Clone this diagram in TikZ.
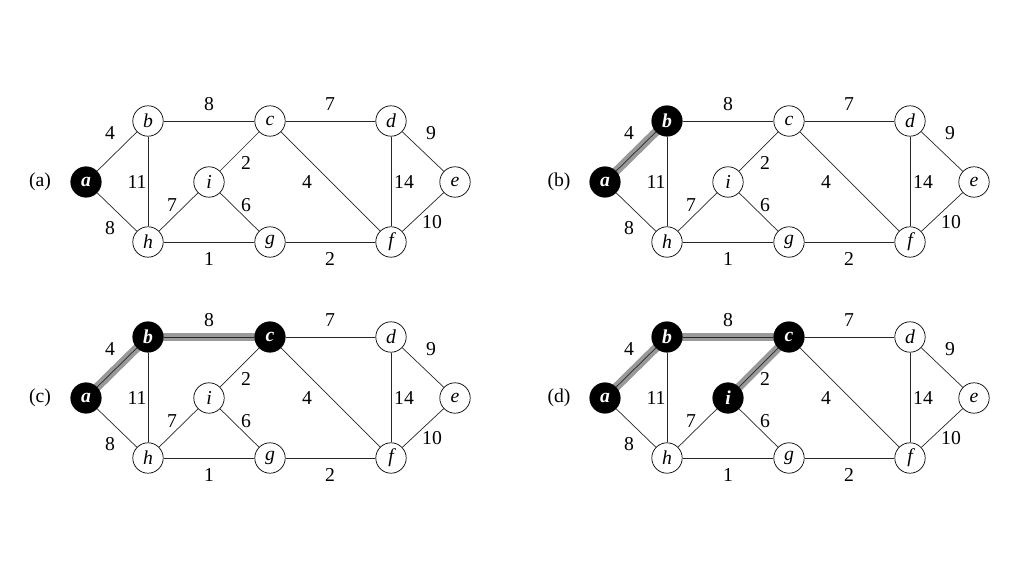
\documentclass[tikz,border=0pt]{standalone}
\usepackage{fontspec}
\setmainfont{Liberation Serif}
\pgfdeclarelayer{hl}
\pgfdeclarelayer{edges}
\pgfsetlayers{hl,edges,main}
\tikzset{
  vtx/.style={circle, draw=black, line width=0.5pt, fill=white, minimum size=0.76cm, inner sep=0pt,
    font=\fontsize{14}{16}\selectfont\itshape},
  blk/.style={fill=black, text=white, font=\fontsize{14}{16}\selectfont\bfseries\itshape},
  na/.style={}, nb/.style={}, nc/.style={}, nd/.style={}, ne/.style={},
  nf/.style={}, ng/.style={}, nh/.style={}, ni/.style={},
  edge/.style={draw=black!85, line width=0.5pt},
  hledge/.style={draw=black!40, line width=6pt},
  wlab/.style={font=\fontsize{14}{16}\selectfont, inner sep=1pt},
  plab/.style={font=\fontsize{14}{16}\selectfont, inner sep=1pt},
}
\newcommand\graphpanel[4]{%
  \begin{scope}[shift={(#2,#3)}]
    \node[plab] (#1lab) at (40,182) {#4};
    \foreach \n/\x/\y in {a/86/182, b/148/121, c/270/121, d/391/121, e/455/182,
                          f/391/242, g/270/242, h/148/242, i/209/182}
      \node[vtx, n\n] (#1\n) at (\x,\y) {\n};
    \begin{pgfonlayer}{edges}
      \foreach \u/\v in {a/b, a/h, b/c, b/h, c/d, c/i, c/f, d/e, d/f, e/f, f/g, g/h, g/i, h/i}
        \draw[edge] (#1\u) -- (#1\v);
    \end{pgfonlayer}
    \foreach \t/\x/\y [count=\k] in {4/110/133, 8/209/104, 7/330/104, 9/431/133, 11/137/182,
        2/246/163, 4/307/182, 14/404/182, 7/172/205, 6/246/205, 10/432/222,
        8/110/228, 1/209/259, 2/330/259}
      \node[wlab] (#1w\k) at (\x,\y) {\t};
  \end{scope}%
}
\begin{document}
\begin{tikzpicture}[x=0.025cm, y=-0.025cm]
  \useasboundingbox (0,0) rectangle (1024,576);
  % (a)
  \begin{scope}[na/.style=blk]
    \graphpanel{p}{0}{0}{(a)}
  \end{scope}
  % (b)
  \begin{scope}[na/.style=blk, nb/.style=blk]
    \graphpanel{q}{519}{0}{(b)}
  \end{scope}
  \begin{pgfonlayer}{hl}
    \draw[hledge] (qa.center) -- (qb.center);
  \end{pgfonlayer}
  % (c)
  \begin{scope}[na/.style=blk, nb/.style=blk, nc/.style=blk]
    \graphpanel{r}{0}{216}{(c)}
  \end{scope}
  \begin{pgfonlayer}{hl}
    \draw[hledge] (ra.center) -- (rb.center);
    \draw[hledge] (rb.center) -- (rc.center);
  \end{pgfonlayer}
  % (d)
  \begin{scope}[na/.style=blk, nb/.style=blk, nc/.style=blk, ni/.style=blk]
    \graphpanel{s}{519}{216}{(d)}
  \end{scope}
  \begin{pgfonlayer}{hl}
    \draw[hledge] (sa.center) -- (sb.center);
    \draw[hledge] (sb.center) -- (sc.center);
    \draw[hledge] (sc.center) -- (si.center);
  \end{pgfonlayer}
\end{tikzpicture}
\end{document}
